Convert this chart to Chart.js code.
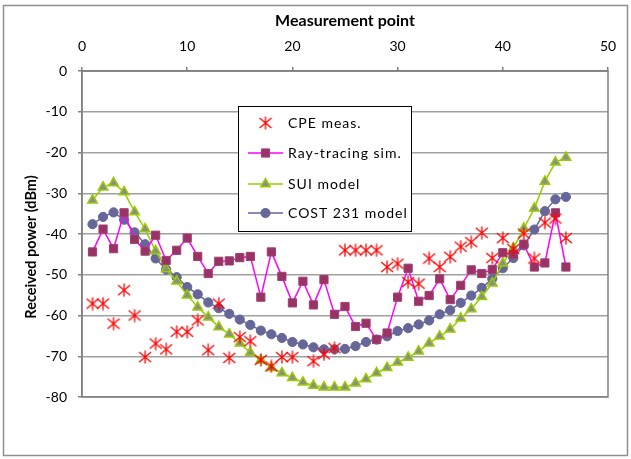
<!DOCTYPE html>
<html>
<head>
<meta charset="utf-8">
<script src="https://cdn.jsdelivr.net/npm/chart.js@4"></script>
<style>
  body { margin: 0; background: #fff; }
  #wrap { width: 631px; height: 459px; }
</style>
</head>
<body>
<div id="wrap"><canvas id="chart" width="631" height="459"></canvas></div>
<script>
// measurement points 1..46
const points = [1,2,3,4,5,6,7,8,9,10,11,12,13,14,15,16,17,18,19,20,21,22,23,
  24,25,26,27,28,29,30,31,32,33,34,35,36,37,38,39,40,41,42,43,44,45,46];

const cpeMeas = [-57.1,-57.1,-62.0,-53.8,-60.0,-70.2,-66.9,-68.3,-64.0,-64.0,-61.2,-68.5,-57.1,-70.4,-65.3,-66.3,
  -70.9,-72.5,-70.2,-70.2,null,-71.2,-69.5,-68.0,-44.0,-44.0,-44.0,-44.0,-48.1,-47.3,-51.8,-52.2,
  -46.0,-48.1,-45.6,-43.1,-42.0,-39.7,-45.9,-41.0,-43.7,-39.9,-46.0,-37.2,-36.2,-41.0];

const rayTracing = [-44.4,-38.8,-43.6,-34.8,-41.3,-44.2,-40.3,-46.5,-44.0,-41.0,-45.5,-49.7,-46.7,-46.6,-45.8,-45.5,
  -55.5,-44.4,-50.4,-56.9,-51.6,-57.4,-51.2,-59.7,-57.8,-62.7,-61.9,-65.9,-64.3,-55.5,-48.4,-56.5,
  -55.1,-51.0,-56.1,-52.6,-48.8,-49.7,-48.7,-44.6,-45.0,-42.5,-48.1,-47.1,-34.8,-48.1];

const suiModel = [-31.7,-28.5,-27.5,-29.7,-34.6,-38.8,-44.2,-48.6,-51.6,-55.0,-58.0,-60.4,-62.8,-64.6,-66.8,-69.1,
  -71.0,-72.8,-74.1,-75.3,-76.4,-77.2,-77.6,-77.6,-77.6,-76.6,-75.6,-74.1,-72.8,-71.5,-70.3,-68.8,
  -66.8,-65.1,-63.4,-60.7,-58.4,-55.4,-52.1,-47.2,-43.5,-38.6,-33.7,-27.1,-22.4,-21.2];

const cost231 = [-37.6,-35.8,-34.7,-36.5,-39.6,-42.5,-46.0,-48.7,-50.6,-53.0,-54.8,-56.8,-58.2,-59.6,-61.0,-62.3,
  -63.7,-64.6,-65.5,-66.5,-67.1,-67.8,-68.3,-68.3,-68.2,-67.5,-66.5,-65.9,-65.1,-63.8,-63.1,-62.2,
  -61.2,-59.7,-58.7,-56.9,-55.1,-53.2,-51.0,-48.4,-45.9,-42.8,-38.9,-34.4,-31.5,-30.9];

const seriesNames = ['CPE meas.', 'Ray-tracing sim.', 'SUI model', 'COST 231 model'];
const xTicks = [0, 10, 20, 30, 40, 50];
const yTicks = [0, -10, -20, -30, -40, -50, -60, -70, -80];

function toXY(vals) {
  return points.map((x, i) => ({ x: x, y: vals[i] }));
}

// excel-like star marker: an X with a vertical bar
function makeStar(size, color) {
  const c = document.createElement('canvas');
  c.width = size; c.height = size;
  const g = c.getContext('2d');
  g.strokeStyle = color;
  g.lineWidth = 1.3;
  g.beginPath();
  g.moveTo(size / 2, 0.5); g.lineTo(size / 2, size - 0.5);
  g.moveTo(1, 2); g.lineTo(size - 1, size - 2);
  g.moveTo(1, size - 2); g.lineTo(size - 1, 2);
  g.stroke();
  return c;
}
const starImg = makeStar(14, '#ff0000');

const frame = {
  id: 'frame',
  beforeDraw(chart) {
    const ctx = chart.ctx;
    ctx.save();
    ctx.strokeStyle = '#8f8f8f';
    ctx.lineWidth = 1.5;
    ctx.strokeRect(3.5, 5.5, 624, 450);
    ctx.restore();
  },
  afterDatasetsDraw(chart) {
    const ctx = chart.ctx;
    const a = chart.chartArea;
    ctx.save();
    ctx.strokeStyle = '#808080';
    ctx.lineWidth = 1.5;
    ctx.strokeRect(a.left, a.top, a.right - a.left, a.bottom - a.top);

    // axis titles
    ctx.fillStyle = '#000';
    ctx.font = 'bold 16px Lato';
    ctx.textAlign = 'center';
    ctx.textBaseline = 'middle';
    ctx.fillText('Measurement point', (a.left + a.right) / 2, 21);
    ctx.translate(31, 247);
    ctx.rotate(-Math.PI / 2);
    ctx.font = 'bold 14.5px Lato';
    ctx.fillText('Received power (dBm)', 0, 0);
    ctx.restore();

    // legend box
    ctx.save();
    ctx.fillStyle = '#fff';
    ctx.fillRect(238.5, 106.5, 173, 125);
    ctx.strokeStyle = '#000';
    ctx.lineWidth = 1;
    ctx.strokeRect(238.5, 106.5, 173, 125);
    const rows = [123, 153, 184, 213];
    chart.data.datasets.forEach((ds, i) => {
      const y = rows[i];
      if (ds.showLine !== false) {
        ctx.strokeStyle = ds.borderColor;
        ctx.lineWidth = ds.borderWidth;
        ctx.beginPath();
        ctx.moveTo(248, y); ctx.lineTo(283, y);
        ctx.stroke();
      }
      ctx.fillStyle = ds.pointBackgroundColor;
      ctx.strokeStyle = ds.pointBorderColor;
      ctx.lineWidth = ds.pointBorderWidth;
      Chart.helpers.drawPoint(ctx, {
        pointStyle: ds.pointStyle, radius: ds.pointRadius,
        rotation: 0, borderWidth: ds.pointBorderWidth
      }, 265.5, y);
      ctx.fillStyle = '#000';
      ctx.font = '14px Lato';
      ctx.letterSpacing = '1px';
      ctx.textAlign = 'left';
      ctx.textBaseline = 'middle';
      ctx.fillText(ds.label, 288, y);
    });
    ctx.restore();
  }
};

new Chart(document.getElementById('chart'), {
  type: 'scatter',
  data: {
    datasets: [
      {
        label: seriesNames[0], data: toXY(cpeMeas), showLine: false,
        pointStyle: starImg, pointRadius: 7, borderColor: '#ff0000',
        pointBackgroundColor: '#ff0000', pointBorderColor: '#ff0000', pointBorderWidth: 1.3
      },
      {
        label: seriesNames[1], data: toXY(rayTracing), showLine: true,
        borderColor: '#ff00ff', borderWidth: 1.5,
        pointStyle: 'rect', pointRadius: 5.8,
        pointBackgroundColor: '#993366', pointBorderColor: '#a04070', pointBorderWidth: 1
      },
      {
        label: seriesNames[2], data: toXY(suiModel), showLine: true,
        borderColor: '#99cc00', borderWidth: 1.5,
        pointStyle: 'triangle', pointRadius: 5.5,
        pointBackgroundColor: '#8c8c8c', pointBorderColor: '#99cc00', pointBorderWidth: 1.5
      },
      {
        label: seriesNames[3], data: toXY(cost231), showLine: true,
        borderColor: '#666699', borderWidth: 1.5,
        pointStyle: 'circle', pointRadius: 4.6,
        pointBackgroundColor: '#666699', pointBorderColor: '#666699', pointBorderWidth: 1
      }
    ]
  },
  options: {
    responsive: false,
    animation: false,
    layout: { padding: { left: 0, top: 0, right: 23, bottom: 62 } },
    plugins: { legend: { display: false }, tooltip: { enabled: false } },
    scales: {
      x: {
        type: 'linear', position: 'top', min: 0, max: 50,
        afterFit(scale) { scale.height = 71; },
        afterBuildTicks(scale) { scale.ticks = xTicks.map(v => ({ value: v })); },
        ticks: { color: '#000', font: { family: 'Lato', size: 14 }, padding: 12 },
        grid: { drawOnChartArea: false, drawTicks: true, tickLength: 4, color: '#808080', lineWidth: 1.5 },
        border: { color: '#808080', width: 1.5 }
      },
      y: {
        type: 'linear', min: -80, max: 0,
        afterFit(scale) { scale.width = 82; },
        afterBuildTicks(scale) { scale.ticks = yTicks.map(v => ({ value: v })); },
        ticks: { color: '#000', font: { family: 'Lato', size: 14 }, padding: 11 },
        grid: { color: '#a0a0a0', lineWidth: 1.5, tickLength: 4, tickColor: '#808080' },
        border: { color: '#808080', width: 1.5 }
      }
    }
  },
  plugins: [frame]
});
</script>
</body>
</html>
